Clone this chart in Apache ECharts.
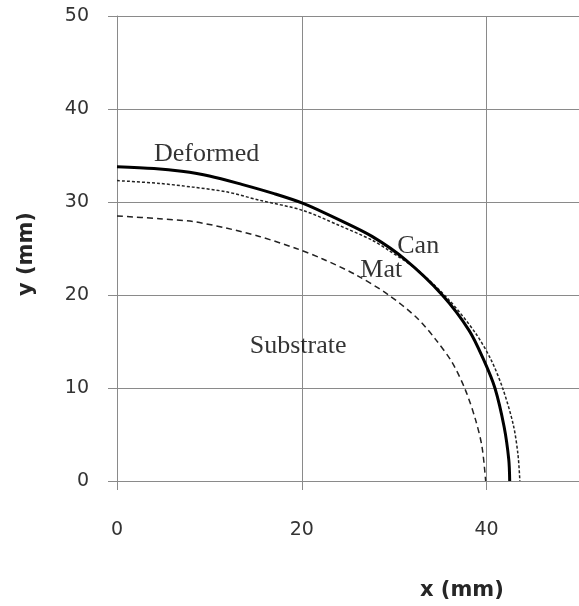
<!DOCTYPE html>
<html>
<head>
<meta charset="utf-8">
<script src="https://cdn.jsdelivr.net/npm/echarts@6/dist/echarts.min.js"></script>
<style>
  html, body { margin: 0; padding: 0; background: #fff; }
  #chart { width: 579px; height: 606px; }
</style>
</head>
<body>
<div id="chart"></div>
<script>
// curve points (mm)
var deformedX = [0, 4, 7, 10, 13.5, 17, 20, 24, 27.6, 31.2, 35.2, 38.1, 39.7, 40.9, 41.9, 42.4, 42.5];
var deformedY = [33.8, 33.6, 33.3, 32.8, 31.9, 30.9, 29.9, 28.1, 26.3, 23.8, 20.0, 16.2, 13.0, 10.0, 5.8, 2.3, 0];

var canX = [0, 4.6, 8.2, 11.8, 15.4, 20.1, 24, 27.6, 29.4, 32.5, 35.9, 38.8, 40.5, 41.8, 42.9, 43.4, 43.6];
var canY = [32.3, 32.0, 31.6, 31.1, 30.2, 29.1, 27.5, 25.9, 24.8, 22.7, 19.5, 15.9, 13.0, 9.8, 6.0, 2.8, 0];

var substrateX = [0, 4.6, 8.2, 11.8, 15.4, 19.4, 22.2, 25.8, 29.4, 32.5, 34.5, 36.3, 37.7, 38.8, 39.5, 39.9];
var substrateY = [28.5, 28.2, 27.9, 27.2, 26.3, 25.0, 23.9, 22.2, 20.0, 17.5, 15.2, 12.7, 9.8, 6.6, 3.7, 0];

// text labels placed in data coords
var noteText = ['Deformed', 'Can', 'Mat', 'Substrate'];
var noteX = [9.7, 32.6, 28.6, 19.6];
var noteY = [35.1, 25.2, 22.7, 14.5];

function pairs(xs, ys) {
  var out = [];
  for (var i = 0; i < xs.length; i++) out.push([xs[i], ys[i]]);
  return out;
}

var notes = [];
for (var i = 0; i < noteText.length; i++) notes.push({ value: [noteX[i], noteY[i]], name: noteText[i] });

var gridColor = '#8a8a8a';
var tickFont = { fontFamily: 'DejaVu Sans', fontSize: 19, color: '#333' };

var myChart = echarts.init(document.getElementById('chart'));
myChart.setOption({
  animation: false,
  grid: { left: 117, top: 16, right: -2, bottom: 125 },
  xAxis: {
    type: 'value', min: 0, max: 50, interval: 20,
    axisLine: { lineStyle: { color: gridColor } },
    axisTick: { show: true, length: 9, lineStyle: { color: gridColor } },
    splitLine: { lineStyle: { color: gridColor } },
    axisLabel: Object.assign({ margin: 40, showMaxLabel: false }, tickFont)
  },
  yAxis: {
    type: 'value', min: 0, max: 50, interval: 10,
    axisLine: { show: true, lineStyle: { color: gridColor } },
    axisTick: { show: true, length: 9, lineStyle: { color: gridColor } },
    splitLine: { lineStyle: { color: gridColor } },
    axisLabel: Object.assign({ margin: 28 }, tickFont)
  },
  graphic: [
    { type: 'text', left: 420, top: 580,
      style: { text: 'x (mm)', font: 'bold 21px "DejaVu Sans"', fill: '#262626' } },
    { type: 'text', x: 16, y: 296, rotation: Math.PI / 2,
      style: { text: 'y (mm)', font: 'bold 21px "DejaVu Sans"', fill: '#262626' } }
  ],
  series: [
    { type: 'line', name: 'Substrate', data: pairs(substrateX, substrateY), showSymbol: false, smooth: 0.3,
      lineStyle: { color: '#222', width: 1.5, type: [6, 4] } },
    { type: 'line', name: 'Can', data: pairs(canX, canY), showSymbol: false, smooth: 0.3,
      lineStyle: { color: '#222', width: 1.5, type: [3, 2] } },
    { type: 'line', name: 'Deformed', data: pairs(deformedX, deformedY), showSymbol: false, smooth: 0.3,
      lineStyle: { color: '#000', width: 3 } },
    { type: 'scatter', data: notes, symbolSize: 0, silent: true,
      label: { show: true, position: 'inside', formatter: '{b}',
        fontFamily: 'Liberation Serif', fontSize: 26, color: '#000' } }
  ]
});
</script>
</body>
</html>
